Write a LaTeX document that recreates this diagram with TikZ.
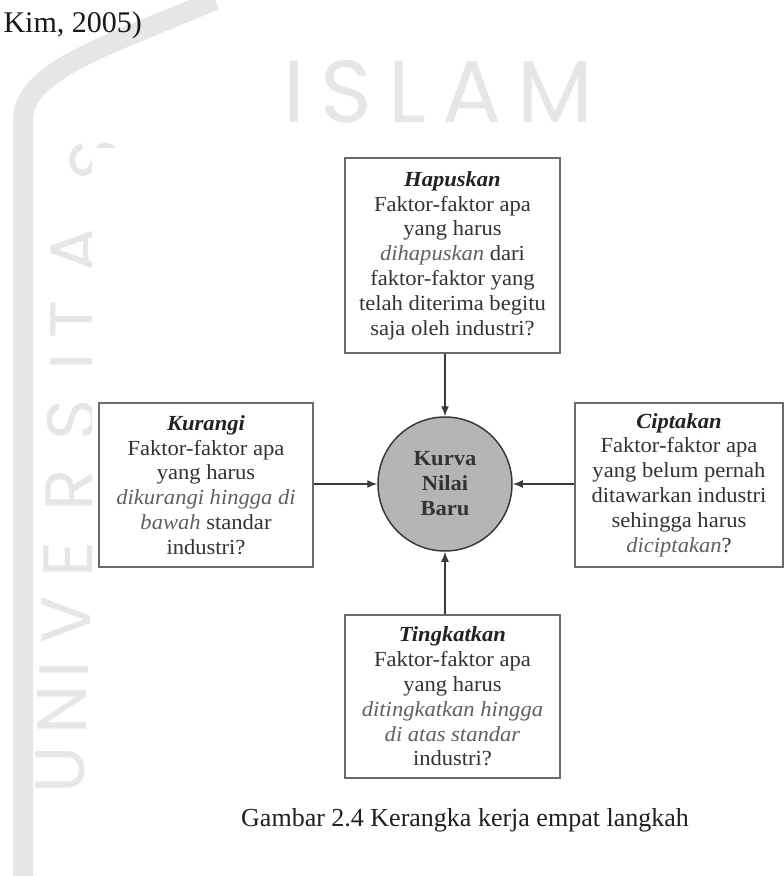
\documentclass[tikz,border=0pt]{standalone}
\usepackage{fontspec}
\setmainfont{Liberation Serif}
\newfontfamily\boxfont[FakeStretch=1.05]{Liberation Serif}
\newfontfamily\wmfont[LetterSpace=6]{Poppins}
\newfontfamily\wmtitle[LetterSpace=18]{Poppins}
\usetikzlibrary{arrows.meta}
\definecolor{wm}{HTML}{E6E6E6}
\definecolor{boxline}{HTML}{6A6A6A}
\definecolor{darkline}{HTML}{3A3A3A}
\definecolor{txt}{HTML}{333333}
\definecolor{ttl}{HTML}{222222}
\definecolor{itx}{HTML}{606060}
\definecolor{circfill}{HTML}{B5B5B5}
\newcommand{\ttlx}[1]{\textcolor{ttl}{\textbf{\textit{#1}}}}
\newcommand{\itx}[1]{\textcolor{itx}{\textit{#1}}}
\begin{document}
\begin{tikzpicture}[x=1pt,y=-1pt,
  stepbox/.style={draw=boxline, line width=1.8pt, fill=white, inner sep=0pt, align=center,
    font=\boxfont\fontsize{21.5}{24.8}\selectfont, text=txt},
  conn/.style={draw=darkline, line width=1.5pt, -{Latex[length=10pt,width=8pt]}},
  wmletter/.style={text=wm, font=\wmfont\fontsize{70}{70}\selectfont, rotate=90, inner sep=0pt}]
\useasboundingbox (0,0) rectangle (784,876);
% watermark
\draw[wm, line width=20pt] (23,876) -- (23,120) .. controls (23,70) and (110,45) .. (215,0);
\node[anchor=base west, text=wm, font=\wmtitle\fontsize{88}{88}\selectfont] (islam) at (280,122) {ISLAM};
\node[wmletter] (w1) at (95,160) {S};
\node[wmletter] (w2) at (75,250) {A};
\node[wmletter] (w3) at (75,320) {T};
\node[wmletter] (w4) at (75,362) {I};
\node[wmletter] (w5) at (72,420) {S};
\node[wmletter] (w6) at (70,490) {R};
\node[wmletter] (w7) at (68,560) {E};
\node[wmletter] (w8) at (66,620) {V};
\node[wmletter] (w9) at (64,670) {I};
\node[wmletter] (w10) at (62,710) {N};
\node[wmletter] (w11) at (60,770) {U};
\fill[white] (92,148) rectangle (784,788);
% texts
\node[anchor=base west, font=\fontsize{30}{32}\selectfont, text=black!90] (kim) at (0,32) {Kim, 2005)};
\node[anchor=base, font=\fontsize{26}{30}\selectfont, text=black!88] (cap) at (465,826) {Gambar 2.4 Kerangka kerja empat langkah};
% diagram
\node[stepbox, minimum width=215pt, minimum height=195pt] (hapus) at (452.5,255.5)
  {\ttlx{Hapuskan}\\Faktor-faktor apa\\yang harus\\\itx{dihapuskan} dari\\faktor-faktor yang\\telah diterima begitu\\saja oleh industri?};
\node[stepbox, minimum width=214pt, minimum height=164pt] (kurang) at (206,485)
  {\ttlx{Kurangi}\\Faktor-faktor apa\\yang harus\\\itx{dikurangi hingga di}\\\itx{bawah} standar\\industri?};
\node[stepbox, minimum width=208pt, minimum height=164pt] (cipta) at (679,485)
  {\ttlx{Ciptakan}\\Faktor-faktor apa\\yang belum pernah\\ditawarkan industri\\sehingga harus\\\itx{diciptakan}?};
\node[stepbox, minimum width=215pt, minimum height=163pt] (tingkat) at (452.5,696.5)
  {\ttlx{Tingkatkan}\\Faktor-faktor apa\\yang harus\\\itx{ditingkatkan hingga}\\\itx{di atas standar}\\industri?};
\node[circle, draw=darkline, fill=circfill, line width=1.5pt, minimum size=134pt, inner sep=0pt,
  align=center, text=txt, font=\boxfont\bfseries\fontsize{21.5}{25}\selectfont] (kurva) at (445,484) {Kurva\\Nilai\\Baru};
\draw[conn] (kurva |- hapus.south) -- (kurva.north);
\draw[conn] (kurva |- tingkat.north) -- (kurva.south);
\draw[conn] (kurang.east |- kurva) -- (kurva.west);
\draw[conn] (cipta.west |- kurva) -- (kurva.east);
\end{tikzpicture}
\end{document}
